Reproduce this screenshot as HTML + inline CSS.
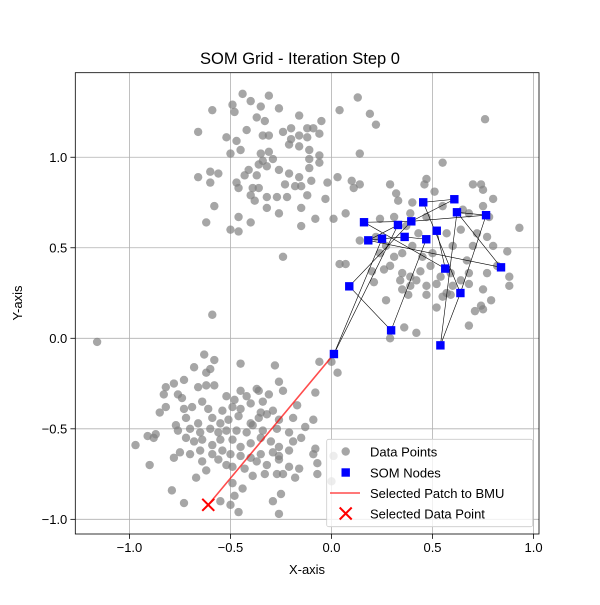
<!DOCTYPE html>
<html><head><meta charset="utf-8"><style>
body{margin:0;background:#fff}
svg text{font-family:"Liberation Sans","DejaVu Sans",sans-serif;fill:#000}
</style></head><body>
<svg id="chart" width="600" height="600" viewBox="0 0 600 600"></svg>
<script>
const dataX=[-0.44,-0.40,-0.31,-0.49,-0.35,-0.59,-0.48,-0.26,-0.37,-0.16,-0.33,-0.05,-0.66,-0.42,-0.34,-0.31,-0.24,-0.20,-0.16,-0.12,-0.09,-0.06,-0.52,-0.47,-0.20,-0.12,-0.50,-0.45,-0.35,-0.31,-0.21,-0.16,-0.11,-0.06,-0.29,-0.34,-0.11,-0.06,-0.36,-0.32,-0.26,-0.11,-0.41,-0.66,-0.60,-0.56,-0.43,-0.37,-0.16,-0.21,-0.10,-0.02,-0.47,-0.60,-0.39,-0.36,-0.46,-0.23,-0.18,-0.15,-0.40,-0.38,-0.32,-0.27,-0.22,-0.12,-0.03,-0.58,-0.32,-0.15,-0.26,-0.08,0.01,0.07,-0.46,-0.62,-0.40,-0.15,-0.50,-0.46,-0.24,0.04,0.13,0.19,0.22,0.14,
0.76,0.55,0.47,0.29,0.46,0.32,0.33,0.40,0.51,0.70,0.74,0.75,0.80,0.93,0.03,0.10,0.14,0.11,0.24,0.39,0.47,0.55,0.65,0.68,0.75,0.78,0.31,0.37,0.43,0.57,0.64,0.72,0.77,0.80,0.87,0.88,0.88,0.14,0.22,0.24,0.27,0.31,0.35,0.40,0.45,0.50,0.60,0.67,0.70,0.04,0.07,0.20,0.26,0.29,0.35,0.39,0.44,0.49,0.54,0.59,0.64,0.68,0.77,0.82,0.21,0.34,0.39,0.42,0.47,0.52,0.57,0.60,0.68,0.75,0.35,0.38,0.47,0.27,0.52,0.55,0.71,0.75,0.74,0.79,0.68,0.36,0.42,0.29,0.59,
-0.63,-0.58,-0.68,-0.45,-0.28,-0.06,0.00,0.03,-0.62,-0.60,-0.82,-0.78,-0.73,-0.66,-0.62,-0.58,-0.37,-0.36,-0.26,-0.24,-0.83,-0.76,-0.74,-0.52,-0.48,-0.45,-0.42,-0.34,-0.31,-0.08,-0.85,-0.82,-0.73,-0.69,-0.64,-0.61,-0.54,-0.49,-0.45,-0.40,-0.35,-0.29,-0.17,-0.77,-0.72,-0.66,-0.59,-0.55,-0.51,-0.46,-0.40,-0.36,-0.32,-0.26,-0.19,-0.13,-0.09,-0.76,-0.70,-0.65,-0.60,-0.56,-0.52,-0.47,-0.42,-0.39,-0.34,-0.27,-0.21,-0.15,-0.97,-0.91,-0.88,-0.87,-0.72,-0.68,-0.64,-0.59,-0.55,-0.49,-0.45,-0.40,-0.35,-0.30,-0.26,-0.19,-0.08,-0.78,-0.75,-0.70,-0.65,-0.59,-0.54,-0.50,-0.45,-0.40,-0.35,-0.29,-0.26,-0.21,-0.09,-0.64,-0.56,-0.52,-0.49,-0.43,-0.37,-0.32,-0.26,-0.21,-0.16,-0.07,-0.90,-0.79,-0.67,-0.62,-0.49,-0.44,-0.39,-0.33,-0.27,-0.24,-0.18,-0.07,-0.73,-0.55,-0.48,-0.50,-0.46,-0.29,-0.25,-0.26,0.00,0.01,-1.16,-0.59];
const dataY=[1.35,1.31,1.34,1.29,1.28,1.26,1.25,1.27,1.22,1.23,1.20,1.20,1.14,1.15,1.12,1.12,1.14,1.16,1.12,1.16,1.16,1.13,1.11,1.09,1.10,1.11,1.02,1.04,1.02,1.03,1.07,1.06,1.04,1.01,0.99,0.98,0.99,0.97,0.96,0.95,0.93,0.94,0.93,0.89,0.92,0.91,0.90,0.90,0.89,0.91,0.87,0.86,0.86,0.86,0.83,0.83,0.83,0.85,0.84,0.84,0.79,0.76,0.78,0.78,0.78,0.79,0.77,0.73,0.72,0.72,0.69,0.66,0.66,0.69,0.67,0.64,0.64,0.62,0.60,0.59,0.45,1.26,1.33,1.24,1.18,1.02,
1.21,0.97,0.88,0.85,0.85,0.80,0.76,0.75,0.81,0.85,0.85,0.82,0.77,0.61,0.89,0.87,0.85,0.83,0.66,0.69,0.67,0.73,0.71,0.69,0.73,0.67,0.67,0.62,0.58,0.58,0.60,0.58,0.56,0.51,0.48,0.34,0.29,0.54,0.56,0.47,0.51,0.45,0.47,0.51,0.45,0.47,0.51,0.43,0.51,0.41,0.41,0.37,0.38,0.40,0.36,0.34,0.37,0.40,0.34,0.36,0.32,0.36,0.36,0.40,0.31,0.32,0.29,0.32,0.29,0.30,0.25,0.29,0.30,0.27,0.27,0.24,0.24,0.21,0.17,0.23,0.15,0.16,0.18,0.21,0.07,0.06,0.03,0.00,0.24,
-0.09,-0.12,-0.16,-0.14,-0.15,-0.13,-0.13,-0.19,-0.19,-0.17,-0.27,-0.25,-0.23,-0.27,-0.26,-0.26,-0.28,-0.29,-0.24,-0.29,-0.31,-0.31,-0.33,-0.32,-0.34,-0.29,-0.32,-0.35,-0.31,-0.30,-0.41,-0.38,-0.39,-0.38,-0.35,-0.39,-0.40,-0.38,-0.39,-0.36,-0.41,-0.40,-0.37,-0.48,-0.44,-0.47,-0.44,-0.47,-0.45,-0.43,-0.47,-0.44,-0.42,-0.45,-0.44,-0.49,-0.45,-0.51,-0.50,-0.52,-0.50,-0.52,-0.51,-0.51,-0.52,-0.48,-0.51,-0.50,-0.52,-0.55,-0.59,-0.54,-0.55,-0.53,-0.55,-0.57,-0.56,-0.59,-0.56,-0.56,-0.60,-0.58,-0.55,-0.57,-0.60,-0.57,-0.61,-0.66,-0.63,-0.64,-0.62,-0.64,-0.62,-0.64,-0.65,-0.66,-0.64,-0.63,-0.65,-0.62,-0.64,-0.68,-0.67,-0.70,-0.71,-0.72,-0.68,-0.70,-0.67,-0.71,-0.72,-0.69,-0.70,-0.84,-0.77,-0.73,-0.80,-0.83,-0.76,-0.75,-0.75,-0.75,-0.77,-0.75,-0.91,-0.90,-0.87,-0.92,-0.96,-0.90,-0.86,-0.97,-0.79,-0.65,-0.02,0.13];
const nodeX=[0.454,0.608,0.621,0.765,0.161,0.329,0.395,0.521,0.182,0.250,0.362,0.469,0.563,0.839,0.088,0.638,0.295,0.539,0.012];
const nodeY=[0.751,0.768,0.696,0.680,0.641,0.626,0.646,0.594,0.541,0.550,0.560,0.547,0.385,0.392,0.287,0.250,0.044,-0.039,-0.087];
const edgeFrom=[0,1,0,6,2,2,2,3,4,4,5,8,10,11,16,14,18,18,15,9,8,7];
const edgeTo=[1,6,15,3,3,13,17,15,6,12,8,13,11,16,14,6,9,5,17,10,9,12];
const selectedX=[-0.61], selectedY=[-0.92];
const bmuIndex=18;
const xTicks=[-1.0,-0.5,0.0,0.5,1.0], xTickLabels=["−1.0","−0.5","0.0","0.5","1.0"];
const yTicks=[-1.0,-0.5,0.0,0.5,1.0], yTickLabels=["−1.0","−0.5","0.0","0.5","1.0"];

const L=75.3,R=539,T=72.7,B=534;
const X0=-1.268,X1=1.027,Y0=-1.081,Y1=1.467;
const sx=v=>L+(v-X0)/(X1-X0)*(R-L);
const sy=v=>B-(v-Y0)/(Y1-Y0)*(B-T);
const svg=document.getElementById('chart');
const NS='http://www.w3.org/2000/svg';
function mk(tag,attrs,parent){const e=document.createElementNS(NS,tag);for(const k in attrs)e.setAttribute(k,attrs[k]);(parent||svg).appendChild(e);return e;}

let t=mk('text',{x:300,y:64,'text-anchor':'middle','font-size':'16.5'});t.textContent='SOM Grid - Iteration Step 0';



const grid=mk('g',{});


xTicks.forEach((v,i)=>{
  const x=sx(v);
  mk('line',{x1:x,x2:x,y1:T,y2:B,stroke:'#b0b0b0','stroke-width':0.8},grid);
  mk('line',{x1:x,x2:x,y1:B,y2:B+4.9,stroke:'#000','stroke-width':0.8});
  const tt=mk('text',{x:x,y:B+18,'text-anchor':'middle','font-size':'13'});tt.textContent=xTickLabels[i];
  
  
});
yTicks.forEach((v,i)=>{
  const y=sy(v);
  mk('line',{x1:L,x2:R,y1:y,y2:y,stroke:'#b0b0b0','stroke-width':0.8},grid);
  mk('line',{x1:L-4.9,x2:L,y1:y,y2:y,stroke:'#000','stroke-width':0.8});
  const tt=mk('text',{x:L-8,y:y+4.6,'text-anchor':'end','font-size':'13'});tt.textContent=yTickLabels[i];
  
  
});

const pts=mk('g',{fill:'#808080','fill-opacity':0.7});


dataX.forEach((v,i)=>{
  const c=mk('circle',{cx:sx(v),cy:sy(dataY[i]),r:4.2},pts);
  
  
});

const edges=mk('g',{stroke:'#000','stroke-width':0.6});


edgeFrom.forEach((a,i)=>{
  const b=edgeTo[i];
  const l=mk('line',{x1:sx(nodeX[a]),y1:sy(nodeY[a]),x2:sx(nodeX[b]),y2:sy(nodeY[b])},edges);
  
  
});

const pl=mk('line',{x1:sx(selectedX[0]),y1:sy(selectedY[0]),x2:sx(nodeX[bmuIndex]),y2:sy(nodeY[bmuIndex]),stroke:'#ff0000','stroke-opacity':0.7,'stroke-width':1.6});



const nodes=mk('g',{fill:'#0000ff'});


nodeX.forEach((v,i)=>{
  const r=mk('rect',{x:sx(v)-4.2,y:sy(nodeY[i])-4.2,width:8.4,height:8.4},nodes);
  
  
});

const sxp=sx(selectedX[0]),syp=sy(selectedY[0]);
const xm=mk('path',{d:`M${sxp-6},${syp-6}L${sxp+6},${syp+6}M${sxp-6},${syp+6}L${sxp+6},${syp-6}`,stroke:'#ff0000','stroke-width':2});



mk('rect',{x:L,y:T,width:R-L,height:B-T,fill:'none',stroke:'#000','stroke-width':0.8});

t=mk('text',{x:307,y:574,'text-anchor':'middle','font-size':'13'});t.textContent='X-axis';


t=mk('text',{x:22,y:303,'text-anchor':'middle','font-size':'13',transform:'rotate(-90 22 303)'});t.textContent='Y-axis';



const lg=mk('g',{});


mk('rect',{x:326.7,y:439.3,width:206,height:87.4,rx:2,fill:'#fff','fill-opacity':0.8,stroke:'#cccccc','stroke-width':0.8},lg);
const ly=[451.5,472.5,493,513.5];
const labels=['Data Points','SOM Nodes','Selected Patch to BMU','Selected Data Point'];
mk('circle',{cx:345.7,cy:ly[0],r:4.2,fill:'#808080','fill-opacity':0.7},lg);
mk('rect',{x:341.5,y:ly[1]-4.2,width:8.4,height:8.4,fill:'#0000ff'},lg);
mk('line',{x1:330,x2:360,y1:ly[2],y2:ly[2],stroke:'#ff0000','stroke-opacity':0.7,'stroke-width':1.6},lg);
mk('path',{d:`M339.7,${ly[3]-6}L351.7,${ly[3]+6}M339.7,${ly[3]+6}L351.7,${ly[3]-6}`,stroke:'#ff0000','stroke-width':2},lg);
labels.forEach((s,i)=>{
  const e=mk('text',{x:370,y:ly[i]+4.8,'font-size':'13'},lg);e.textContent=s;
  
  
});
</script>
</body></html>
